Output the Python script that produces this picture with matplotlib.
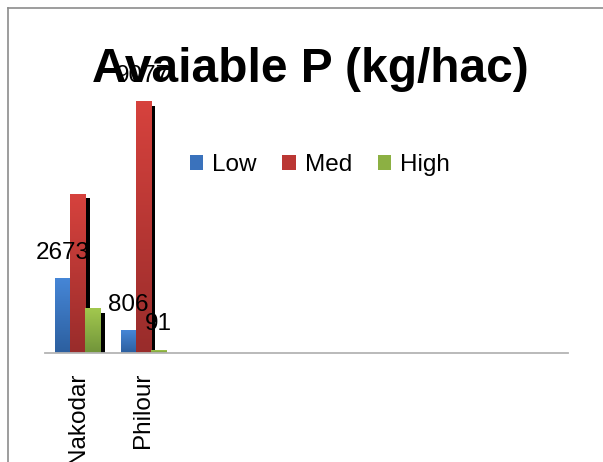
import matplotlib
matplotlib.use("Agg")
import matplotlib.pyplot as plt
from matplotlib import colors, transforms
from matplotlib.lines import Line2D
from matplotlib.patches import Patch
import numpy as np

plt.rcParams['font.family'] = ['Liberation Sans', 'DejaVu Sans']

# data
towns = ['Nakodar', 'Philour']
n_slots = 8  # empty category slots, as in the original sheet
low = [2673, 806]
med = [5740, 9077]
high = [1590, 91]
series_names = ['Low', 'Med', 'High']
# which values carry a data label (others are hidden in the original)
labelled = {'Low': [True, True], 'Med': [False, True], 'High': [False, True]}

top_cols = ['#4686d6', '#d6423d', '#a2c84e']
bot_cols = ['#2c5f9f', '#992c2b', '#71943a']
mid_cols = ['#3a72bc', '#bb3734', '#8cb043']

W, H = 603, 462
fig = plt.figure(figsize=(W / 100, H / 100), dpi=100)
ax = fig.add_axes([45 / W, 1 - 353 / H, 523 / W, 277 / H])

x = np.arange(len(towns))
w = 0.23
shadow = ax.transData + transforms.ScaledTranslation(4.5 / 100, -4 / 100, fig.dpi_scale_trans)

for i, (name, vals) in enumerate(zip(series_names, [low, med, high])):
    xs = x + (i - 1) * w
    ax.bar(xs, vals, w, color='black', transform=shadow, zorder=2 + 2 * i, linewidth=0)
    cmap = colors.LinearSegmentedColormap.from_list(name, [bot_cols[i], top_cols[i]])
    grad = np.linspace(1, 0, 64).reshape(-1, 1)
    for xc, v, lab in zip(xs, vals, labelled[name]):
        ax.imshow(grad, extent=(xc - w / 2, xc + w / 2, 0, v), aspect='auto',
                  cmap=cmap, zorder=3 + 2 * i, interpolation='bilinear')
        if lab:
            ax.annotate(str(v), (xc, v), xytext=(0, 14.4), textcoords='offset points',
                        ha='center', va='baseline', fontsize=17.5, zorder=20)

ax.set_xlim(-0.5, n_slots - 0.5)
ax.set_ylim(0, 10000)
ax.set_xticks(range(n_slots))
ax.set_xticklabels(towns + [''] * (n_slots - len(towns)), rotation=90, fontsize=17.5)
ax.tick_params(axis='x', length=0, pad=14)
ax.set_yticks([])
for s in ['top', 'right', 'left']:
    ax.spines[s].set_visible(False)
ax.spines['bottom'].set_color('#b4b4b4')
ax.spines['bottom'].set_linewidth(1.3)
ax.spines['bottom'].set_zorder(10)

fig.text(310 / W, 1 - 82 / H, 'Avaiable P (kg/hac)', ha='center', va='baseline',
         fontsize=34.5, fontweight='bold', zorder=30)

handles = [Patch(facecolor=c) for c in mid_cols]
fig.legend(handles, series_names, loc='center left', bbox_to_anchor=(190 / W, 1 - 165 / H),
           ncol=3, frameon=False, fontsize=17.5, handlelength=0.55, handleheight=0.55,
           handletextpad=0.37, columnspacing=1.05, borderpad=0, borderaxespad=0)

# outer chart frame (cut off on the right and bottom)
fig.add_artist(Line2D([8 / W, 8 / W], [0, 1 - 8 / H], color='#8c8c8c', lw=1.2))
fig.add_artist(Line2D([8 / W, 1], [1 - 8 / H, 1 - 8 / H], color='#8c8c8c', lw=1.2))

fig.savefig('out.png', dpi=100)
